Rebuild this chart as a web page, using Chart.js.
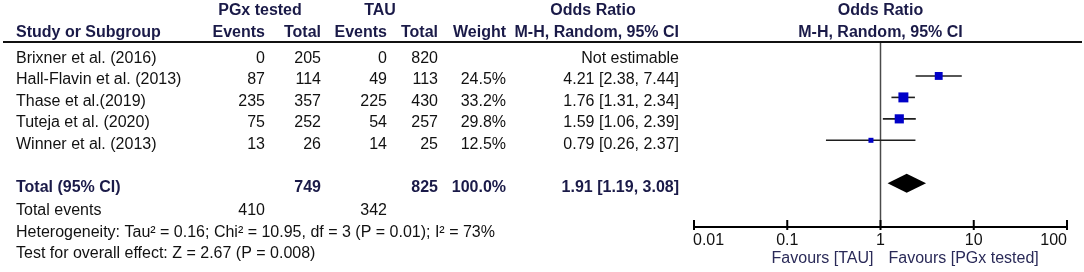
<!DOCTYPE html>
<html>
<head>
<meta charset="utf-8">
<script src="https://cdn.jsdelivr.net/npm/chart.js@4.4.1/dist/chart.umd.min.js"></script>
<style>
  html, body { margin: 0; padding: 0; background: #ffffff; }
  #wrap { width: 1084px; height: 272px; position: relative; }
  canvas { display: block; }
</style>
</head>
<body>
<div id="wrap"><canvas id="c" width="1084" height="272"></canvas></div>
<script>
// ---------- data ----------
const studies = ['Brixner et al. (2016)', 'Hall-Flavin et al. (2013)', 'Thase et al.(2019)', 'Tuteja et al. (2020)', 'Winner et al. (2013)'];
const pgxEvents = [0, 87, 235, 75, 13];
const pgxTotal = [205, 114, 357, 252, 26];
const tauEvents = [0, 49, 225, 54, 14];
const tauTotal = [820, 113, 430, 257, 25];
const weightPct = [null, 24.5, 33.2, 29.8, 12.5];
const oddsRatio = [null, 4.21, 1.76, 1.59, 0.79];
const ciLower = [null, 2.38, 1.31, 1.06, 0.26];
const ciUpper = [null, 7.44, 2.34, 2.39, 2.37];
const totalSizes = [749, 825];
const totalEventCounts = [410, 342];
const totalWeight = [100.0];
const pooledOR = [1.91, 1.19, 3.08]; // estimate, lower, upper
const hetStats = ['0.16', '10.95', '3', '0.01', '73']; // Tau², Chi², df, P, I²
const overallEffect = ['2.67', '0.008']; // Z, P
const xTickValues = [0.01, 0.1, 1, 10, 100];
const xTickLabels = ['0.01', '0.1', '1', '10', '100'];
const favourLabels = ['Favours [TAU]', 'Favours [PGx tested]'];
const headerGroups = ['PGx tested', 'TAU', 'Odds Ratio', 'Odds Ratio'];
const headerCols = ['Study or Subgroup', 'Events', 'Total', 'Events', 'Total', 'Weight', 'M-H, Random, 95% CI', 'M-H, Random, 95% CI'];

// ---------- derived ----------
const totalRow = studies.length + 1;
const fmt2 = v => v.toFixed(2);
const orText = i => oddsRatio[i] == null ? 'Not estimable' :
  fmt2(oddsRatio[i]) + ' [' + fmt2(ciLower[i]) + ', ' + fmt2(ciUpper[i]) + ']';

const whiskerSets = studies.map((s, i) => oddsRatio[i] == null ? null : {
  type: 'line',
  data: [{ x: ciLower[i], y: i }, { x: ciUpper[i], y: i }],
  borderColor: '#1e1e1e',
  borderWidth: 1.6,
  pointRadius: 0,
  order: 2
}).filter(Boolean);

const squareSet = {
  type: 'scatter',
  data: studies.map((s, i) => oddsRatio[i] == null ? null : { x: oddsRatio[i], y: i, w: weightPct[i] }).filter(Boolean),
  pointStyle: 'rect',
  pointRadius: ctx => (2 + 0.24 * ctx.raw.w) / Math.SQRT2,
  pointBackgroundColor: '#0000c8',
  pointBorderWidth: 0,
  order: 0
};

const FONT = '"Liberation Sans", Arial, sans-serif';
const HEAD_COLOR = '#1a1a48';
const TEXT_COLOR = '#111111';

const forestPlugin = {
  id: 'forest',
  beforeDatasetsDraw(chart) {
    const { ctx, chartArea, scales: { x } } = chart;
    const px = x.getPixelForValue(1);
    ctx.save();
    ctx.strokeStyle = '#4a4a4a';
    ctx.lineWidth = 1.5;
    ctx.beginPath();
    ctx.moveTo(px, chartArea.top);
    ctx.lineTo(px, chartArea.bottom);
    ctx.stroke();
    ctx.restore();
  },
  afterDatasetsDraw(chart) {
    const { ctx, chartArea, scales: { x, y } } = chart;
    ctx.save();

    // pooled diamond
    const dy = y.getPixelForValue(totalRow);
    const half = 9.5;
    ctx.fillStyle = '#000000';
    ctx.beginPath();
    ctx.moveTo(x.getPixelForValue(pooledOR[1]), dy);
    ctx.lineTo(x.getPixelForValue(pooledOR[0]), dy - half);
    ctx.lineTo(x.getPixelForValue(pooledOR[2]), dy);
    ctx.lineTo(x.getPixelForValue(pooledOR[0]), dy + half);
    ctx.closePath();
    ctx.fill();

    // x axis
    const ay = chartArea.bottom;
    const x0 = x.getPixelForValue(xTickValues[0]);
    const x1 = x.getPixelForValue(xTickValues[xTickValues.length - 1]);
    ctx.strokeStyle = '#000000';
    ctx.lineWidth = 2;
    ctx.beginPath();
    ctx.moveTo(x0, ay);
    ctx.lineTo(x1, ay);
    ctx.stroke();
    ctx.font = '16px ' + FONT;
    ctx.fillStyle = TEXT_COLOR;
    ctx.textBaseline = 'alphabetic';
    xTickValues.forEach((v, i) => {
      const tx = x.getPixelForValue(v);
      ctx.beginPath();
      ctx.moveTo(tx, ay - 7);
      ctx.lineTo(tx, ay + 3);
      ctx.stroke();
      ctx.textAlign = i === 0 ? 'left' : (i === xTickValues.length - 1 ? 'right' : 'center');
      ctx.fillText(xTickLabels[i], tx + (i === 0 ? -1 : 0), ay + 18);
    });
    const one = x.getPixelForValue(1);
    ctx.fillStyle = '#2a2a58';
    ctx.textAlign = 'right';
    ctx.fillText(favourLabels[0], one - 7, ay + 36);
    ctx.textAlign = 'left';
    ctx.fillText(favourLabels[1], one + 8, ay + 36);

    // header rule
    ctx.fillStyle = '#111111';
    ctx.fillRect(3, chartArea.top - 1, 1079, 2);

    // header text
    const h1 = 15, h2 = 36.7;
    ctx.fillStyle = HEAD_COLOR;
    ctx.font = 'bold 16px ' + FONT;
    ctx.textAlign = 'center';
    ctx.fillText(headerGroups[0], 260, h1);
    ctx.fillText(headerGroups[1], 380, h1);
    ctx.fillText(headerGroups[2], 593, h1);
    ctx.fillText(headerGroups[3], one, h1);
    ctx.textAlign = 'left';
    ctx.fillText(headerCols[0], 16, h2);
    ctx.textAlign = 'right';
    const colR = [265, 321, 387, 438, 506, 679];
    for (let k = 1; k <= 6; k++) ctx.fillText(headerCols[k], colR[k - 1], h2);
    ctx.textAlign = 'center';
    ctx.fillText(headerCols[7], one, h2);

    // study rows
    ctx.font = '16px ' + FONT;
    ctx.fillStyle = TEXT_COLOR;
    studies.forEach((s, i) => {
      const by = y.getPixelForValue(i) + 8.5;
      ctx.textAlign = 'left';
      ctx.fillText(s, 16, by);
      ctx.textAlign = 'right';
      ctx.fillText(String(pgxEvents[i]), colR[0], by);
      ctx.fillText(String(pgxTotal[i]), colR[1], by);
      ctx.fillText(String(tauEvents[i]), colR[2], by);
      ctx.fillText(String(tauTotal[i]), colR[3], by);
      if (weightPct[i] != null) ctx.fillText(weightPct[i].toFixed(1) + '%', colR[4], by);
      ctx.fillText(orText(i), colR[5], by);
    });

    // total row
    const tb = dy + 8.5;
    ctx.font = 'bold 16px ' + FONT;
    ctx.fillStyle = HEAD_COLOR;
    ctx.textAlign = 'left';
    ctx.fillText('Total (95% CI)', 16, tb);
    ctx.textAlign = 'right';
    ctx.fillText(String(totalSizes[0]), colR[1], tb);
    ctx.fillText(String(totalSizes[1]), colR[3], tb);
    ctx.fillText(totalWeight[0].toFixed(1) + '%', colR[4], tb);
    ctx.fillText(fmt2(pooledOR[0]) + ' [' + fmt2(pooledOR[1]) + ', ' + fmt2(pooledOR[2]) + ']', colR[5], tb);

    // bottom lines
    ctx.font = '16px ' + FONT;
    ctx.fillStyle = TEXT_COLOR;
    ctx.textAlign = 'left';
    ctx.fillText('Total events', 16, tb + 23.3);
    ctx.textAlign = 'right';
    ctx.fillText(String(totalEventCounts[0]), colR[0], tb + 23.3);
    ctx.fillText(String(totalEventCounts[1]), colR[2], tb + 23.3);
    ctx.textAlign = 'left';
    ctx.fillText('Heterogeneity: Tau\u00B2 = ' + hetStats[0] + '; Chi\u00B2 = ' + hetStats[1] + ', df = ' + hetStats[2] +
      ' (P = ' + hetStats[3] + '); I\u00B2 = ' + hetStats[4] + '%', 16, tb + 45);
    ctx.fillText('Test for overall effect: Z = ' + overallEffect[0] + ' (P = ' + overallEffect[1] + ')', 16, tb + 66);

    ctx.restore();
  }
};

new Chart(document.getElementById('c'), {
  data: { datasets: [squareSet, ...whiskerSets] },
  options: {
    responsive: false,
    devicePixelRatio: 1,
    animation: false,
    events: [],
    layout: { padding: { left: 694, right: 17, top: 42, bottom: 45 } },
    plugins: { legend: { display: false }, tooltip: { enabled: false } },
    scales: {
      x: { type: 'logarithmic', min: xTickValues[0], max: xTickValues[xTickValues.length - 1], display: false },
      y: { type: 'linear', reverse: true, min: -0.583, max: 8.042, display: false }
    }
  },
  plugins: [forestPlugin]
});
</script>
</body>
</html>
